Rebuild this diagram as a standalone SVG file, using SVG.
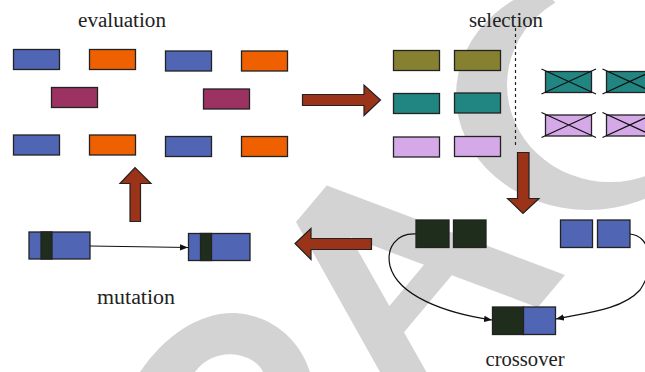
<svg xmlns="http://www.w3.org/2000/svg" width="645" height="372" viewBox="0 0 645 372">
<defs>
<style>
.r{stroke:#222;stroke-width:1.3}
.blue{fill:#5066b4}.orange{fill:#ee6000}.mag{fill:#9c3262}
.olive{fill:#868130}.teal{fill:#218582}.lilac{fill:#d5a8e8}
.dk{fill:#1f2e1c}
.big{fill:#9a3318;stroke:#222;stroke-width:1.2}
.lbl{font-family:"Liberation Serif",serif;font-size:20px;fill:#222;text-anchor:middle}
.x{stroke:#111;stroke-width:1.2}
.wm{fill:#d3d3d3}
.c{fill:none;stroke:#111;stroke-width:1.2}
</style>
<marker id="ah" viewBox="0 0 10 10" refX="10" refY="5" markerWidth="8" markerHeight="8" markerUnits="userSpaceOnUse" orient="auto"><path d="M0,1 L10,5 L0,9 z" fill="#111"/></marker>
</defs>
<rect width="645" height="372" fill="#fff"/>
<g id="watermark">
<path class="wm" fill-rule="evenodd" d="M456,95 a132,115 0 1,0 264,0 a132,115 0 1,0 -264,0 z M507,85 a103,97 0 1,0 206,0 a103,97 0 1,0 -206,0 z"/>
<polygon fill="#fff" points="553,0 645,104 645,0"/>
<path class="wm" fill-rule="evenodd" d="M296,222 L326.7,185.5 L565,275 L537.7,307.5 L451.8,275.2 L404,332.2 L426.4,372 L380,372 Z M350.3,237.1 L424,264.8 L389.4,306.1 Z"/>
<path class="wm" fill-rule="evenodd" d="M140,372 C165,335 200,312 235,313 C272,315 300,340 310,372 Z M195,372 C205,358 222,352 238,355 C252,358 260,365 263,372 Z"/>
</g>
<g id="labels">
<text class="lbl" x="122" y="27" textLength="88" lengthAdjust="spacingAndGlyphs">evaluation</text>
<text class="lbl" x="506" y="27" textLength="74" lengthAdjust="spacingAndGlyphs">selection</text>
<text class="lbl" x="136" y="304" textLength="78" lengthAdjust="spacingAndGlyphs">mutation</text>
<text class="lbl" x="525" y="366" textLength="79" lengthAdjust="spacingAndGlyphs">crossover</text>
</g>
<g id="evaluation">
<rect class="r blue" x="13.5" y="49.5" width="46" height="20"/>
<rect class="r orange" x="89.5" y="49.5" width="46" height="20"/>
<rect class="r blue" x="165.5" y="51" width="46" height="20"/>
<rect class="r orange" x="241.5" y="51" width="46" height="20"/>
<rect class="r mag" x="51.5" y="87.5" width="46" height="20"/>
<rect class="r mag" x="203.5" y="89" width="46" height="20"/>
<rect class="r blue" x="13.5" y="135" width="46" height="20"/>
<rect class="r orange" x="89.5" y="135" width="46" height="20"/>
<rect class="r blue" x="165.5" y="136.5" width="46" height="20"/>
<rect class="r orange" x="241.5" y="136.5" width="46" height="20"/>
</g>
<g id="selection">
<rect class="r olive" x="393.5" y="50.5" width="46" height="20"/>
<rect class="r olive" x="454.5" y="50.5" width="46" height="20"/>
<rect class="r teal" x="393.5" y="93.5" width="46" height="20"/>
<rect class="r teal" x="454.5" y="93" width="46" height="20"/>
<rect class="r lilac" x="393.5" y="137" width="46" height="20"/>
<rect class="r lilac" x="454.5" y="136.5" width="46" height="20"/>
<line x1="515.5" y1="28" x2="515.5" y2="146" stroke="#222" stroke-width="1.2" stroke-dasharray="3,3"/>
</g>
<g id="rejected">
<rect class="r teal" x="545.5" y="71.5" width="46" height="21"/>
<path class="x" d="M541.5,69 L596,94 M541.5,94 L596,69"/>
<rect class="r teal" x="606.5" y="71.5" width="46" height="21"/>
<path class="x" d="M602.5,69 L657,94 M602.5,94 L657,69"/>
<rect class="r lilac" x="545.5" y="115" width="46" height="21"/>
<path class="x" d="M541.5,112.5 L596,137.5 M541.5,137.5 L596,112.5"/>
<rect class="r lilac" x="606.5" y="115" width="46" height="21"/>
<path class="x" d="M602.5,112.5 L657,137.5 M602.5,137.5 L657,112.5"/>
</g>
<g id="crossover">
<rect class="r dk" x="416" y="220" width="33" height="27.5"/>
<rect class="r dk" x="453.5" y="220" width="32.5" height="27.5"/>
<rect class="r blue" x="560.5" y="220" width="32" height="27.5"/>
<rect class="r blue" x="597.5" y="220" width="32.5" height="27.5"/>
<rect class="r dk" x="492.5" y="307" width="31" height="27.5"/>
<rect class="r blue" x="523.5" y="307" width="32" height="27.5"/>
</g>
<g id="mutation">
<rect class="r blue" x="29" y="232" width="61" height="27"/>
<rect class="r dk" x="41" y="232" width="11" height="27"/>
<rect class="r blue" x="188.5" y="233.5" width="61.5" height="27"/>
<rect class="r dk" x="200.5" y="233.5" width="11" height="27"/>
</g>
<g id="connectors">
<path class="big" d="M302.5,94.5 L364,94.5 L364,85 L380.5,100 L364,115.5 L364,105.5 L302.5,105.5 Z"/>
<path class="big" d="M517.5,152.5 L529,152.5 L529,198.5 L539,198.5 L523,213.5 L507.5,198.5 L517.5,198.5 Z"/>
<path class="big" d="M130,221.5 L130,183.5 L120,183.5 L135,167.5 L151,183.5 L140.5,183.5 L140.5,221.5 Z"/>
<path class="big" d="M371.5,238.5 L311,238.5 L311,228.5 L295,243.5 L311,259.5 L311,249.5 L371.5,249.5 Z"/>
<line class="c" x1="90" y1="246" x2="188" y2="247.5" marker-end="url(#ah)"/>
<path class="c" d="M416,234 C396,233 386,248 390,266 C398,296 445,313 492,320" marker-end="url(#ah)"/>
<path class="c" d="M630,234 C652,236 655,268 640,290 C622,310 585,313 556,319" marker-end="url(#ah)"/>
</g>
</svg>
